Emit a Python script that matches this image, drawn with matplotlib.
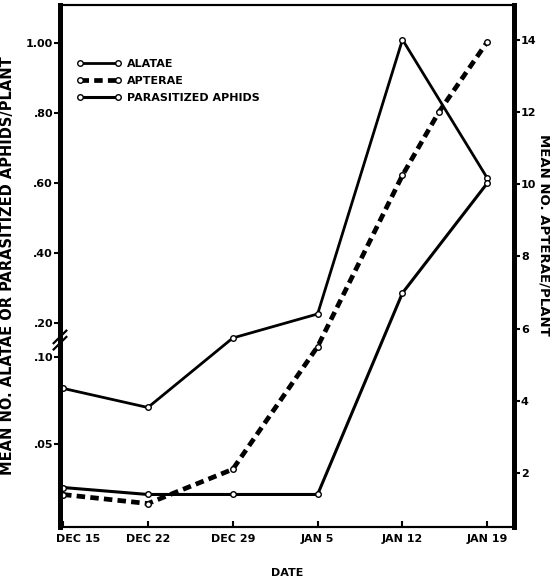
import matplotlib
matplotlib.use("Agg")
import matplotlib.pyplot as plt
import matplotlib.transforms as mtransforms
import numpy as np

# sampling dates, as days after Dec 15
days = [0, 7, 14, 21, 28, 35]
date_labels = ['DEC 15', 'DEC 22', 'DEC 29', 'JAN 5', 'JAN 12', 'JAN 19']

alatae = [0.082, 0.071, 0.156, 0.226, 1.01, 0.614]
parasitized = [0.025, 0.021, 0.021, 0.021, 0.286, 0.60]

apterae_days = [0, 7, 14, 21, 28, 31, 35]
apterae = [1.4, 1.15, 2.1, 5.5, 10.25, 12.0, 13.95]

left_ticks = [0.05, 0.10, 0.20, 0.40, 0.60, 0.80, 1.00]
left_labels = ['.05', '.10', '.20', '.40', '.60', '.80', '1.00']
right_ticks = [2, 4, 6, 8, 10, 12, 14]

# broken left axis: 0-.10 stretched, .10-.20 squeezed, .20 up linear
brk_v = np.array([-1.0, 0.0, 0.10, 0.20, 2.0])
brk_f = np.array([-1740.0, 0.0, 174.0, 208.0, 838.0])


def fwd(v):
    return np.interp(v, brk_v, brk_f)


def inv(f):
    return np.interp(f, brk_f, brk_v)


plt.rcParams['font.family'] = 'DejaVu Sans'
plt.rcParams['font.weight'] = 'bold'
plt.rcParams['axes.labelweight'] = 'bold'

fig = plt.figure(figsize=(5.5, 5.78), dpi=100)
ax = fig.add_axes([60 / 550, 1 - 527 / 578, 454 / 550, 522 / 578])
ax.set_yscale('function', functions=(fwd, inv))
ax2 = ax.twinx()

ax.plot(days, alatae, '-', color='black', lw=2, marker='o', ms=4,
        mfc='white', mec='black', mew=1, label='ALATAE', zorder=3)
ax2.plot(apterae_days, apterae, color='black', lw=3.4, ls=(0, (1.8, 1.1)),
         marker='o', ms=4, mfc='white', mec='black', mew=1, label='APTERAE')
ax.plot(days, parasitized, '-', color='black', lw=2.2, marker='o', ms=4,
        mfc='white', mec='black', mew=1, label='PARASITIZED APHIDS', zorder=3)

ax.set_xlim(-0.25, 37.2)
ax.set_ylim(0.0023, 1.109)
ax2.set_ylim(0.50, 14.97)

ax.set_xticks(days)
ax.set_xticklabels(date_labels)
ax.set_yticks(left_ticks)
ax.set_yticklabels(left_labels)
ax.minorticks_off()
ax2.set_yticks(right_ticks)

ax.tick_params(axis='x', direction='in', length=4, width=1.5, labelsize=8, pad=5)
ax.tick_params(axis='y', direction='out', length=4, width=1.5, labelsize=8, pad=1)
ax2.tick_params(axis='y', direction='out', length=4, width=1.5, labelsize=8, pad=1)

# first date label sits right of its tick, as in the print
first = ax.get_xticklabels()[0]
first.set_transform(first.get_transform() +
                    mtransforms.ScaledTranslation(15 / 100, 0, fig.dpi_scale_trans))

for a in (ax, ax2):
    a.spines['left'].set_linewidth(3.5)
    a.spines['right'].set_linewidth(3.5)
    a.spines['top'].set_linewidth(1.5)
    a.spines['bottom'].set_linewidth(1.5)

ax.set_xlabel('DATE', fontsize=8)
ax.xaxis.set_label_coords(0.5, -0.078)
ax.set_ylabel('MEAN NO. ALATAE OR PARASITIZED APHIDS/PLANT', fontsize=10.5)
ax.yaxis.set_label_coords(-0.099, 0.5)
ax2.set_ylabel('MEAN NO. APTERAE/PLANT', fontsize=9.5, rotation=270, va='center')
ax2.yaxis.set_label_coords(1.065, 0.56)

# break marks on the left spine
yb = ax.transAxes.inverted().transform(ax.transData.transform((0, 0.15)))[1]
for dy in (-0.006, 0.006):
    ax.plot([-0.014, 0.014], [yb + dy - 0.012, yb + dy + 0.012], color='black',
            lw=1.6, transform=ax.transAxes, clip_on=False, zorder=5)

h1, l1 = ax.get_legend_handles_labels()
h2, l2 = ax2.get_legend_handles_labels()
handles = [h1[0], h2[0], h1[1]]
labels = [l1[0], l2[0], l1[1]]
ax.legend(handles, labels, loc='upper left', bbox_to_anchor=(0.028, 0.905),
          frameon=False, fontsize=8, handlelength=4, labelspacing=0.62,
          handletextpad=0.45, borderaxespad=0, numpoints=2)

fig.savefig('out.png', dpi=100)
